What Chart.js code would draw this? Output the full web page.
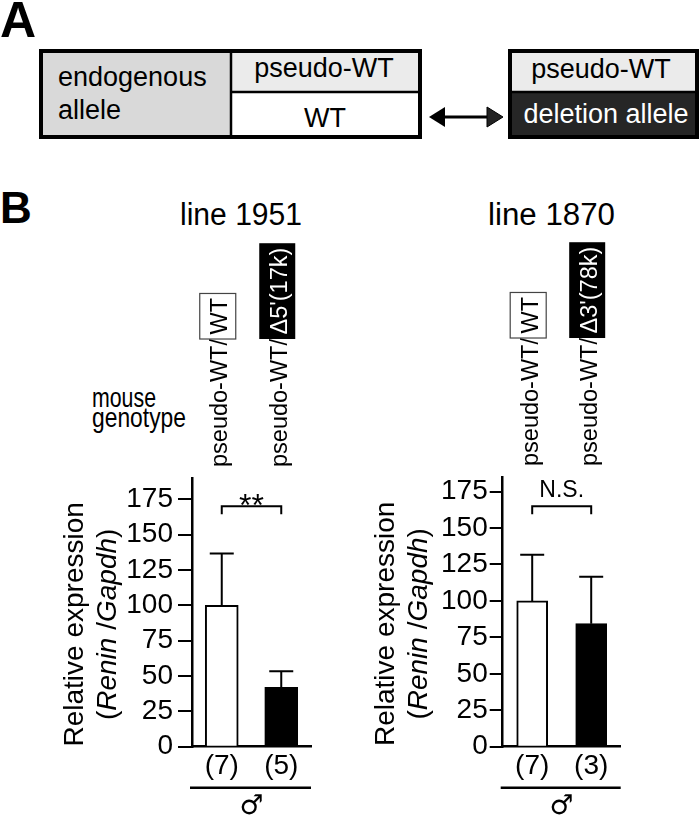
<!DOCTYPE html>
<html lang="en">
<head>
<meta charset="UTF-8" />
<title>Renin expression in pseudo-WT lines</title>
<script src="https://cdn.jsdelivr.net/npm/chart.js"></script>
<style>
  body { margin: 0; background: #fff; }
  #page { position: relative; width: 700px; height: 817px; overflow: hidden; }
  svg, canvas { position: absolute; }
  #chart1951 { left: 0; top: 180px; }
  #chart1870 { left: 350px; top: 180px; }
</style>
</head>
<body>
<div id="page">
  <svg width="700" height="817" style="left:0;top:0" font-family="Liberation Sans, Arial, sans-serif">
    <!-- panel A schematic -->
    <text x="0" y="37" font-size="50" font-weight="bold">A</text>
    <rect x="39" y="49" width="192" height="90" fill="#d9d9d9"/>
    <rect x="231" y="49" width="191" height="43" fill="#ebebeb"/>
    <line x1="231" y1="49" x2="231" y2="139" stroke="#000" stroke-width="2.5"/>
    <line x1="231" y1="92" x2="422" y2="92" stroke="#000" stroke-width="2.5"/>
    <rect x="41" y="51" width="379" height="86" fill="none" stroke="#000" stroke-width="4"/>
    <text x="58" y="86" font-size="27">endogenous</text>
    <text x="58" y="119" font-size="27">allele</text>
    <text x="324" y="77" font-size="27" text-anchor="middle">pseudo-WT</text>
    <text x="325" y="127" font-size="27" text-anchor="middle">WT</text>

    <line x1="440" y1="117" x2="492" y2="117" stroke="#000" stroke-width="3"/>
    <polygon points="429,117 445,107 445,127" fill="#000"/>
    <polygon points="503,117 487,107 487,127" fill="#222" stroke="#000" stroke-width="1"/>

    <rect x="508" y="49" width="191" height="43" fill="#ebebeb"/>
    <rect x="508" y="92" width="191" height="47" fill="#262626"/>
    <line x1="508" y1="92" x2="699" y2="92" stroke="#000" stroke-width="2.5"/>
    <rect x="510" y="51" width="187" height="86" fill="none" stroke="#000" stroke-width="4"/>
    <text x="601" y="78" font-size="27" text-anchor="middle">pseudo-WT</text>
    <text x="606" y="123" font-size="27" text-anchor="middle" fill="#fff">deletion allele</text>

    <!-- panel B headings -->
    <text x="0" y="223" font-size="44" font-weight="bold">B</text>
    <text x="180" y="225" font-size="31" textLength="122" lengthAdjust="spacingAndGlyphs">line 1951</text>
    <text x="488" y="225" font-size="31" textLength="127" lengthAdjust="spacingAndGlyphs">line 1870</text>
    <text x="92" y="407" font-size="28" textLength="64" lengthAdjust="spacingAndGlyphs">mouse</text>
    <text x="92" y="427" font-size="28" textLength="94" lengthAdjust="spacingAndGlyphs">genotype</text>
  </svg>
  <canvas id="chart1951" width="350" height="637"></canvas>
  <canvas id="chart1870" width="350" height="637"></canvas>
</div>

<script>
  const yTicks = [0, 25, 50, 75, 100, 125, 150, 175];
  const genotypePrefix = "pseudo-WT/";
  const barFill = ["#ffffff", "#000000"];

  // line 1951
  const alleles1951 = ["WT", "Δ5'(17k)"];
  const mean1951 = [100, 42];
  const sd1951 = [36.7, 11.3];
  const n1951 = [7, 5];
  const sig1951 = "**";

  // line 1870
  const alleles1870 = ["WT", "Δ3'(78k)"];
  const mean1870 = [100, 84.4];
  const sd1870 = [31.6, 32.1];
  const n1870 = [7, 3];
  const sig1870 = "N.S.";

  const FONT = "'Liberation Sans', Arial, sans-serif";

  // draws error bars, bracket, genotype labels, n counts and axis title
  function makeAnnotate(cfg) {
    return {
      id: "annotate",
      afterDatasetsDraw(chart) {
        const ctx = chart.ctx;
        const { left, right, top, bottom } = chart.chartArea;
        const y = chart.scales.y;
        const bars = chart.getDatasetMeta(0).data;
        ctx.save();
        ctx.strokeStyle = "#000";
        ctx.fillStyle = "#000";

        // upper error bars
        ctx.lineWidth = 2;
        bars.forEach((bar, i) => {
          const yErr = y.getPixelForValue(cfg.means[i] + cfg.sds[i]);
          ctx.beginPath();
          ctx.moveTo(bar.x, bar.y);
          ctx.lineTo(bar.x, yErr);
          ctx.moveTo(bar.x - 12, yErr);
          ctx.lineTo(bar.x + 12, yErr);
          ctx.stroke();
        });

        // significance bracket
        const x0 = bars[0].x, x1 = bars[1].x;
        const yb = y.getPixelForValue(cfg.bracketAt);
        ctx.beginPath();
        ctx.moveTo(x0, yb + 8);
        ctx.lineTo(x0, yb);
        ctx.lineTo(x1, yb);
        ctx.lineTo(x1, yb + 8);
        ctx.stroke();
        ctx.textAlign = "center";
        ctx.textBaseline = "alphabetic";
        ctx.font = cfg.sigFont;
        ctx.fillText(cfg.sig, (x0 + x1) / 2, yb + cfg.sigDy);

        // group sizes, underline and sex symbol
        ctx.font = "28px " + FONT;
        bars.forEach((bar, i) => ctx.fillText("(" + cfg.n[i] + ")", bar.x, bottom + 27.5));
        ctx.lineWidth = 2.5;
        ctx.beginPath();
        ctx.moveTo(left - 2, bottom + 41);
        ctx.lineTo(right, bottom + 41);
        ctx.stroke();
        ctx.font = "27px 'DejaVu Sans', sans-serif";
        ctx.fillText("♂", (left + right) / 2, bottom + 67);

        // rotated genotype labels above each bar
        ctx.font = "23.5px " + FONT;
        bars.forEach((bar, i) => {
          ctx.save();
          ctx.translate(bar.x + 5.5, top - 11);
          ctx.rotate(-Math.PI / 2);
          ctx.textAlign = "left";
          ctx.fillStyle = "#000";
          ctx.fillText(genotypePrefix, 0, 0);
          const w = ctx.measureText(genotypePrefix).width;
          const pad = 4.5;
          const len = ctx.measureText(cfg.alleles[i]).width + pad * 2;
          ctx.fillStyle = barFill[i];
          ctx.fillRect(w, -27.5, len, 36);
          if (barFill[i] === "#ffffff") {
            ctx.strokeStyle = "#444";
            ctx.lineWidth = 1.2;
            ctx.strokeRect(w, -27.5, len, 36);
            ctx.fillStyle = "#000";
          } else {
            ctx.fillStyle = "#fff";
          }
          ctx.fillText(cfg.alleles[i], w + pad, 0);
          ctx.restore();
        });

        // y axis title (two lines, gene names in italics)
        const cy = (top + bottom) / 2 + 12;
        ctx.save();
        ctx.translate(left - 109, cy);
        ctx.rotate(-Math.PI / 2);
        ctx.textAlign = "center";
        ctx.font = "28px " + FONT;
        ctx.fillText("Relative expression", 0, 0);
        ctx.restore();

        const parts = [["(", false], ["Renin", true], [" /", false], ["Gapdh", true], [")", false]];
        ctx.save();
        ctx.translate(left - 76, cy);
        ctx.rotate(-Math.PI / 2);
        ctx.textAlign = "left";
        let total = 0;
        parts.forEach(p => {
          ctx.font = (p[1] ? "italic " : "") + "28px " + FONT;
          total += ctx.measureText(p[0]).width;
        });
        let x = -total / 2;
        parts.forEach(p => {
          ctx.font = (p[1] ? "italic " : "") + "28px " + FONT;
          ctx.fillText(p[0], x, 0);
          x += ctx.measureText(p[0]).width;
        });
        ctx.restore();

        ctx.restore();
      }
    };
  }

  function makeChart(id, cfg) {
    return new Chart(document.getElementById(id), {
      type: "bar",
      data: {
        labels: cfg.alleles.map(a => genotypePrefix + a),
        datasets: [{
          data: cfg.means,
          backgroundColor: barFill,
          borderColor: "#000",
          borderWidth: 2,
          barThickness: cfg.barWidth
        }]
      },
      options: {
        responsive: false,
        animation: false,
        layout: { padding: cfg.padding },
        plugins: { legend: { display: false }, tooltip: { enabled: false } },
        scales: {
          x: {
            grid: { display: false },
            ticks: { display: false },
            border: { color: "#000", width: 2.5 },
            afterFit: s => { s.height = 0; }
          },
          y: {
            min: 0,
            max: cfg.yMax,
            afterBuildTicks: s => { s.ticks = yTicks.map(v => ({ value: v })); },
            afterFit: s => { s.width = cfg.axisWidth; },
            grid: { drawOnChartArea: false, color: "#000", lineWidth: 2, tickLength: cfg.tickLength },
            border: { color: "#000", width: 2.5 },
            ticks: { color: "#000", padding: cfg.tickPad, font: { family: "Liberation Sans", size: 28 } }
          }
        }
      },
      plugins: [makeAnnotate(cfg)]
    });
  }

  makeChart("chart1951", {
    alleles: alleles1951, means: mean1951, sds: sd1951, n: n1951,
    sig: sig1951, sigFont: "32px " + FONT, sigDy: 10, bracketAt: 170,
    yMax: 190, axisWidth: 192, tickLength: 14, tickPad: 5, barWidth: 33,
    padding: { top: 298, bottom: 70.3, left: 0, right: 39 }
  });

  makeChart("chart1870", {
    alleles: alleles1870, means: mean1870, sds: sd1870, n: n1870,
    sig: sig1870, sigFont: "23px " + FONT, sigDy: -9, bracketAt: 165,
    yMax: 185, axisWidth: 152.7, tickLength: 13, tickPad: 2, barWidth: 31,
    padding: { top: 297, bottom: 70.3, left: 0, right: 79.3 }
  });
</script>
</body>
</html>
